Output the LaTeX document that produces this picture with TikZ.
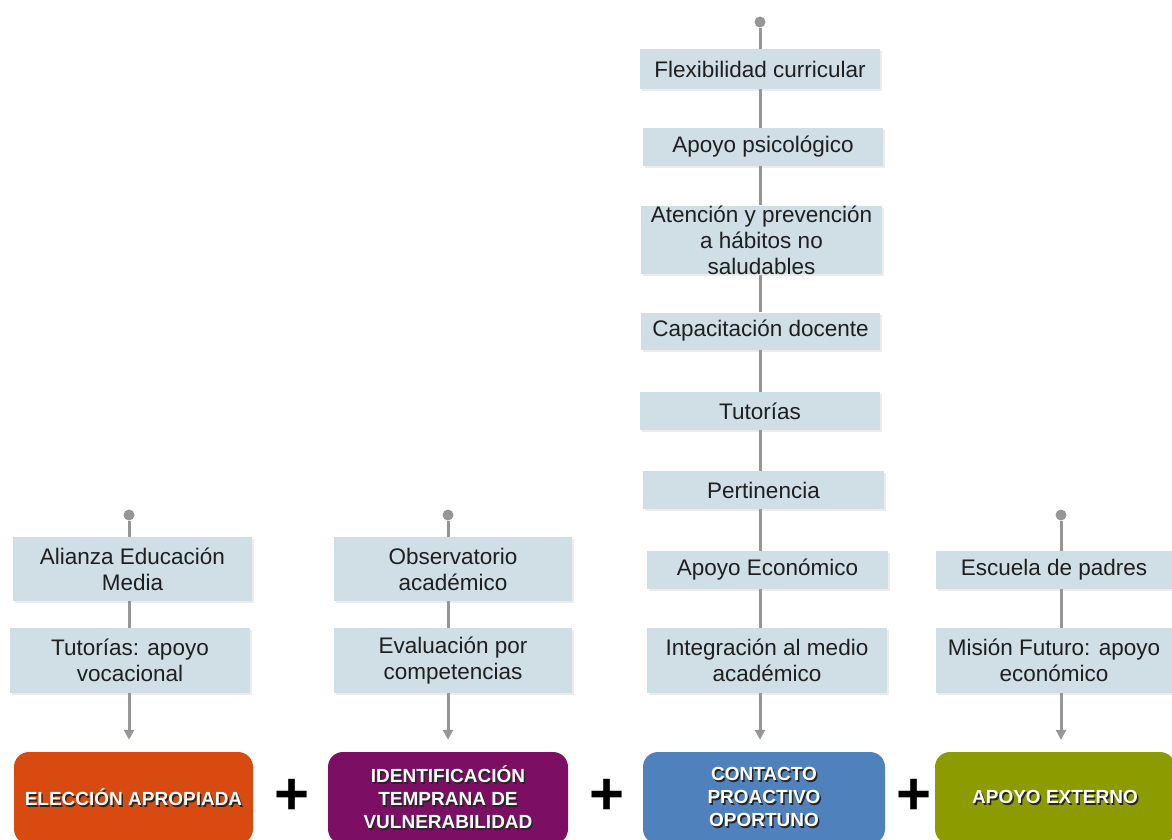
\documentclass[tikz,border=0pt]{standalone}
\usepackage{fontspec}
\setmainfont{Liberation Sans}
\usetikzlibrary{arrows.meta,shadows}
\definecolor{boxfill}{RGB}{208,222,230}
\definecolor{connc}{RGB}{150,150,150}
\definecolor{corange}{RGB}{217,74,16}
\definecolor{cpurple}{RGB}{124,15,100}
\definecolor{cblue}{RGB}{79,129,189}
\definecolor{cgreen}{RGB}{140,155,0}
\newcommand\shd[1]{\leavevmode\rlap{\kern1.5pt\raisebox{-1.5pt}{\textcolor{black!85}{#1}}}#1}
\tikzset{
  item/.style={fill=boxfill, inner xsep=2pt, inner ysep=0pt, align=center,
    font=\fontsize{22.5}{26}\selectfont, text=black!88,
    drop shadow={shadow xshift=2pt, shadow yshift=-2pt, fill=black!15, opacity=.5}},
  goal/.style={rounded corners=15pt, inner sep=0pt, align=center, minimum height=92pt,
    font=\fontsize{19}{23}\selectfont\bfseries, text=white},
  dotn/.style={circle, fill=connc, inner sep=0pt, minimum size=11pt},
  conn/.style={draw=connc, line width=3pt},
  arr/.style={conn, -{Triangle[length=10pt,width=10pt]}, shorten >=12pt},
  plus/.style={font=\fontsize{60}{60}\selectfont\bfseries, text=black, inner sep=0pt}
}
\begin{document}
\begin{tikzpicture}[x=1pt,y=-1pt]
\useasboundingbox (0,0) rectangle (1172,840);
\clip (0,0) rectangle (1172,840);
% column 1
\node[dotn] (p1) at (129,515) {};
\node[item, minimum width=239pt, minimum height=64pt] (a1) at (132.5,569) {Alianza Educación\\Media};
\node[item, minimum width=240pt, minimum height=65pt] (a2) at (130,660.5) {Tutorías: apoyo\\vocacional};
\node[goal, fill=corange, minimum width=239pt] (e1) at (133.5,798) {\shd{ELECCIÓN APROPIADA}};
% column 2
\node[dotn] (p2) at (448,515) {};
\node[item, minimum width=238pt, minimum height=64pt] (b1) at (453,569) {Observatorio\\académico};
\node[item, minimum width=238pt, minimum height=65pt] (b2) at (453,660.5) {Evaluación por\\competencias};
\node[goal, fill=cpurple, minimum width=240pt] (e2) at (448,798) {\shd{IDENTIFICACIÓN}\\\shd{TEMPRANA DE}\\\shd{VULNERABILIDAD}};
% column 3
\node[dotn] (p3) at (760,22) {};
\node[item, minimum width=240pt, minimum height=40pt] (c1) at (760,69) {Flexibilidad curricular};
\node[item, minimum width=240pt, minimum height=38pt] (c2) at (763,147) {Apoyo psicológico};
\node[item, minimum width=241pt, minimum height=66pt] (c3) at (761.5,240) {Atención y prevención\\a hábitos no\\saludables};
\node[item, minimum width=239pt, minimum height=37pt] (c4) at (760.5,331) {Capacitación docente};
\node[item, minimum width=240pt, minimum height=38pt] (c5) at (760,411) {Tutorías};
\node[item, minimum width=241pt, minimum height=38pt] (c6) at (763.5,490) {Pertinencia};
\node[item, minimum width=241pt, minimum height=38pt] (c7) at (767.5,570) {Apoyo Económico};
\node[item, minimum width=240pt, minimum height=65pt] (c8) at (767,660.5) {Integración al medio\\académico};
\node[goal, fill=cblue, minimum width=242pt] (e3) at (764,798) {\shd{CONTACTO}\\\shd{PROACTIVO}\\\shd{OPORTUNO}};
% column 4
\node[dotn] (p4) at (1061,515) {};
\node[item, minimum width=237pt, minimum height=38pt] (d1) at (1054,570) {Escuela de padres};
\node[item, minimum width=237pt, minimum height=65pt] (d2) at (1054,660.5) {Misión Futuro: apoyo\\económico};
\node[goal, fill=cgreen, minimum width=240pt] (e4) at (1055,798) {\shd{APOYO EXTERNO}};
% plus signs
\node[plus] (s1) at (292,797) {+};
\node[plus] (s2) at (607,797) {+};
\node[plus] (s3) at (914,797) {+};
% connectors column 1
\draw[conn] (p1) -- (p1 |- a1.north);
\draw[conn] (p1 |- a1.south) -- (p1 |- a2.north);
\draw[arr] (p1 |- a2.south) -- (p1 |- e1.north);
% column 2
\draw[conn] (p2) -- (p2 |- b1.north);
\draw[conn] (p2 |- b1.south) -- (p2 |- b2.north);
\draw[arr] (p2 |- b2.south) -- (p2 |- e2.north);
% column 3
\draw[conn] (p3) -- (p3 |- c1.north);
\draw[conn] (p3 |- c1.south) -- (p3 |- c2.north);
\draw[conn] (p3 |- c2.south) -- (p3 |- c3.north);
\draw[conn] (p3 |- c3.south) -- (p3 |- c4.north);
\draw[conn] (p3 |- c4.south) -- (p3 |- c5.north);
\draw[conn] (p3 |- c5.south) -- (p3 |- c6.north);
\draw[conn] (p3 |- c6.south) -- (p3 |- c7.north);
\draw[conn] (p3 |- c7.south) -- (p3 |- c8.north);
\draw[arr] (p3 |- c8.south) -- (p3 |- e3.north);
% column 4
\draw[conn] (p4) -- (p4 |- d1.north);
\draw[conn] (p4 |- d1.south) -- (p4 |- d2.north);
\draw[arr] (p4 |- d2.south) -- (p4 |- e4.north);
\end{tikzpicture}
\end{document}
